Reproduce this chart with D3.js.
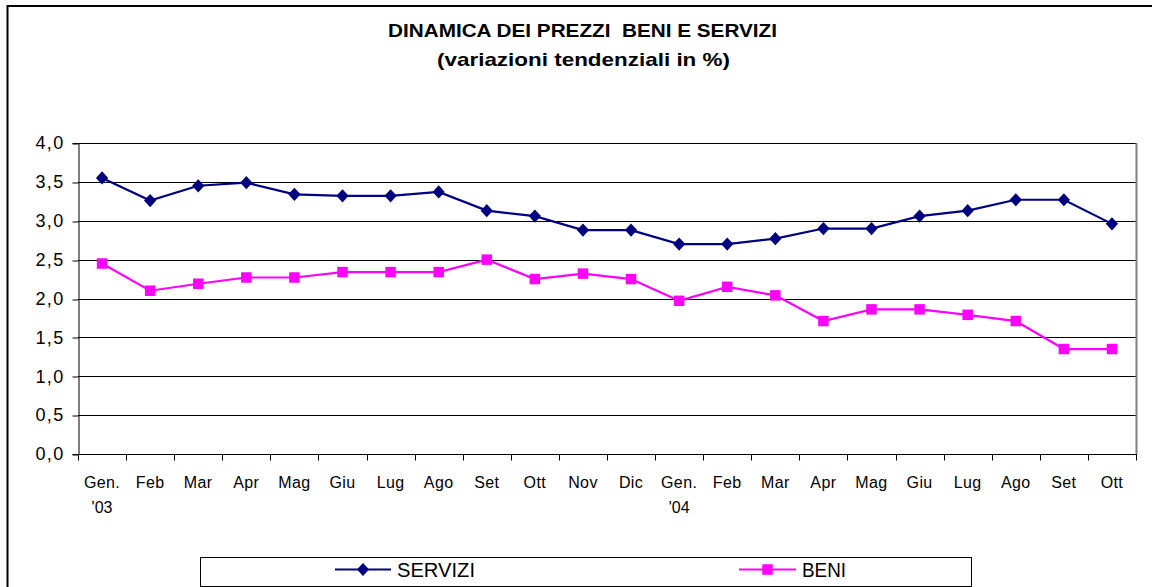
<!DOCTYPE html>
<html>
<head>
<meta charset="utf-8">
<script src="https://cdn.jsdelivr.net/npm/d3@7"></script>
<style>
  html, body { margin: 0; padding: 0; background: #fff; }
  svg { display: block; font-family: "Liberation Sans", Arial, sans-serif; }
</style>
</head>
<body>
<svg id="chart" width="1152" height="587"></svg>
<script>
// Months Jan 2003 – Oct 2004 (first line of each tick label, second line for year marks)
const months = ["Gen.", "Feb", "Mar", "Apr", "Mag", "Giu", "Lug", "Ago", "Set", "Ott", "Nov", "Dic",
                "Gen.", "Feb", "Mar", "Apr", "Mag", "Giu", "Lug", "Ago", "Set", "Ott"];
const yearMarks = ["'03", "", "", "", "", "", "", "", "", "", "", "",
                   "'04", "", "", "", "", "", "", "", "", ""];

// Year-on-year price changes (%)
const servizi = [3.55, 3.26, 3.45, 3.49, 3.34, 3.32, 3.32, 3.37, 3.13, 3.06, 2.88, 2.88,
                 2.70, 2.70, 2.77, 2.90, 2.90, 3.06, 3.13, 3.27, 3.27, 2.96];
const beni    = [2.45, 2.10, 2.19, 2.27, 2.27, 2.34, 2.34, 2.34, 2.50, 2.25, 2.32, 2.25,
                 1.97, 2.15, 2.04, 1.71, 1.86, 1.86, 1.79, 1.71, 1.35, 1.35];

const yTicks = [0, 0.5, 1, 1.5, 2, 2.5, 3, 3.5, 4];
const seriesNames = ["SERVIZI", "BENI"];

const svg = d3.select("#chart");
const plot = { left: 78, right: 1136, top: 143, bottom: 454 };

const idx = d3.range(months.length);
const x = d3.scaleBand().domain(idx).range([plot.left, plot.right]).padding(0);
const y = d3.scaleLinear().domain([0, 4]).range([plot.bottom, plot.top]);
const cx = i => x(i) + x.bandwidth() / 2;
const fmt = v => d3.format(".1f")(v).replace(".", ",");

// Near-square diamond marker (slightly taller than wide)
const diamondType = {
  draw(ctx, size) {
    const w = Math.sqrt(size) / 2, h = w * 1.08;
    ctx.moveTo(0, -h); ctx.lineTo(w, 0); ctx.lineTo(0, h); ctx.lineTo(-w, 0); ctx.closePath();
  }
};

// Outer chart frame
svg.append("rect")
  .attr("x", 7.5).attr("y", 6).attr("width", 1200).attr("height", 620)
  .attr("fill", "none").attr("stroke", "#000").attr("stroke-width", 2);

// Title
const title = svg.append("g").attr("font-weight", "bold").attr("text-anchor", "middle").attr("fill", "#000");
title.append("text")
  .attr("x", 582.5).attr("y", 37).attr("font-size", 19)
  .attr("textLength", 389).attr("lengthAdjust", "spacingAndGlyphs")
  .style("white-space", "pre")
  .text("DINAMICA DEI PREZZI  BENI E SERVIZI");
title.append("text")
  .attr("x", 583.5).attr("y", 66).attr("font-size", 19)
  .attr("textLength", 293).attr("lengthAdjust", "spacingAndGlyphs")
  .text("(variazioni tendenziali in %)");

// Gridlines
svg.append("g")
  .selectAll("line").data(yTicks.filter(d => d > 0)).join("line")
  .attr("x1", plot.left).attr("x2", plot.right)
  .attr("y1", d => Math.round(y(d)) + 0.5).attr("y2", d => Math.round(y(d)) + 0.5)
  .attr("stroke", "#000").attr("stroke-width", 1);

// Plot area right border
svg.append("line")
  .attr("x1", plot.right + 0.5).attr("x2", plot.right + 0.5)
  .attr("y1", plot.top).attr("y2", plot.bottom)
  .attr("stroke", "#808080").attr("stroke-width", 2);

// Y axis
const yAxis = d3.axisLeft(y).tickValues(yTicks).tickSize(6).tickPadding(9).tickFormat(fmt);
const gy = svg.append("g").attr("transform", `translate(${plot.left + 0.5},0)`).call(yAxis);
gy.select(".domain").attr("stroke", "#000");
gy.selectAll(".tick line").attr("stroke", "#000").attr("transform", d => `translate(0,${Math.round(y(d)) + 0.5 - y(d)})`);
gy.selectAll(".tick text")
  .attr("font-size", 18).attr("fill", "#000")
  .attr("font-family", "Liberation Sans, Arial, sans-serif")
  .attr("letter-spacing", 1.3)
  .attr("dx", 1);

// X axis: ticks between categories
const gx = svg.append("g").attr("transform", `translate(0,${Math.round(plot.bottom) + 0.5})`);
gx.append("line").attr("x1", plot.left).attr("x2", plot.right + 1).attr("stroke", "#000");
gx.selectAll("line.tk").data(d3.range(months.length + 1)).join("line").attr("class", "tk")
  .attr("x1", i => Math.round(plot.left + i * x.bandwidth()) + 0.5)
  .attr("x2", i => Math.round(plot.left + i * x.bandwidth()) + 0.5)
  .attr("y1", 0).attr("y2", 6).attr("stroke", "#000");
gx.selectAll("text.m").data(idx).join("text").attr("class", "m")
  .attr("x", i => cx(i)).attr("y", 33)
  .attr("text-anchor", "middle").attr("font-size", 16).attr("fill", "#000")
  .attr("letter-spacing", 0.4)
  .text(i => months[i]);
gx.selectAll("text.yr").data(idx.filter(i => yearMarks[i])).join("text").attr("class", "yr")
  .attr("x", i => cx(i)).attr("y", 58)
  .attr("text-anchor", "middle").attr("font-size", 16).attr("fill", "#000")
  .text(i => yearMarks[i]);

// Series
const line = d3.line().x((d, i) => cx(i)).y(d => y(d));
const diamond = d3.symbol().type(diamondType).size(150);
const square = d3.symbol().type(d3.symbolSquare).size(110);

svg.append("path").datum(servizi).attr("d", line)
  .attr("fill", "none").attr("stroke", "#000080").attr("stroke-width", 2.2);
svg.append("g").selectAll("path").data(servizi).join("path")
  .attr("transform", (d, i) => `translate(${cx(i)},${y(d)})`)
  .attr("d", diamond).attr("fill", "#000080");

svg.append("path").datum(beni).attr("d", line)
  .attr("fill", "none").attr("stroke", "#FF00FF").attr("stroke-width", 2.2);
svg.append("g").selectAll("path").data(beni).join("path")
  .attr("transform", (d, i) => `translate(${cx(i)},${y(d)})`)
  .attr("d", square).attr("fill", "#FF00FF");

// Legend
const lg = svg.append("g");
lg.append("rect").attr("x", 200.5).attr("y", 557.5).attr("width", 771).attr("height", 29)
  .attr("fill", "#fff").attr("stroke", "#000").attr("stroke-width", 1);
const legendItems = [
  { name: seriesNames[0], color: "#000080", sym: diamond, x0: 335, x1: 391, w: 78 },
  { name: seriesNames[1], color: "#FF00FF", sym: square, x0: 739, x1: 796, w: 44 }
];
legendItems.forEach(it => {
  lg.append("line").attr("x1", it.x0).attr("x2", it.x1).attr("y1", 569.5).attr("y2", 569.5)
    .attr("stroke", it.color).attr("stroke-width", 2.2);
  lg.append("path").attr("d", it.sym)
    .attr("transform", `translate(${(it.x0 + it.x1) / 2},569.5)`)
    .attr("fill", it.color);
  lg.append("text").attr("x", it.x1 + 6).attr("y", 577)
    .attr("font-size", 21).attr("fill", "#000")
    .attr("textLength", it.w).attr("lengthAdjust", "spacingAndGlyphs")
    .text(it.name);
});
</script>
</body>
</html>
